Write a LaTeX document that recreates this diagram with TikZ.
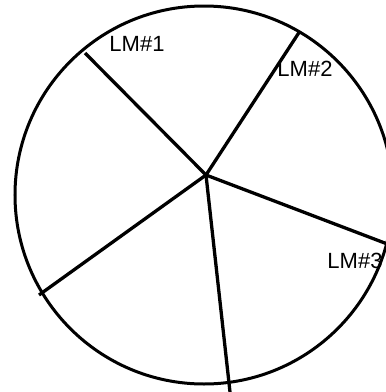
\documentclass[tikz,border=0pt]{standalone}
\usepackage{fontspec}
\setmainfont{Liberation Sans}
\begin{document}
\begin{tikzpicture}[x=1pt,y=-1pt,
  rim/.style={line width=3pt},
  spoke/.style={line width=3.3pt},
  lbl/.style={font=\fontsize{22}{22}\selectfont, inner sep=0pt, text=black}]
\useasboundingbox (0,0) rectangle (386,392);
\clip (0,0) rectangle (386,392);
\fill[white] (0,0) rectangle (386,392);
\coordinate (c) at (204,195);
\draw[rim] (c) circle[radius=189];
\coordinate (hub) at (206,175);
\coordinate (e1) at (85,53);
\coordinate (e2) at (300,31);
\coordinate (e3) at (390,245);
\coordinate (e4) at (230,392);
\coordinate (e5) at (39,295);
\draw[spoke] (hub) -- (e1);
\draw[spoke] (hub) -- (e2);
\draw[spoke] (hub) -- (e3);
\draw[spoke] (hub) -- (e4);
\draw[spoke] (hub) -- (e5);
\node[lbl] (l1) at (137,44) {LM\#1};
\node[lbl] (l2) at (305,69) {LM\#2};
\node[lbl] (l3) at (355,261) {LM\#3};
\end{tikzpicture}
\end{document}
